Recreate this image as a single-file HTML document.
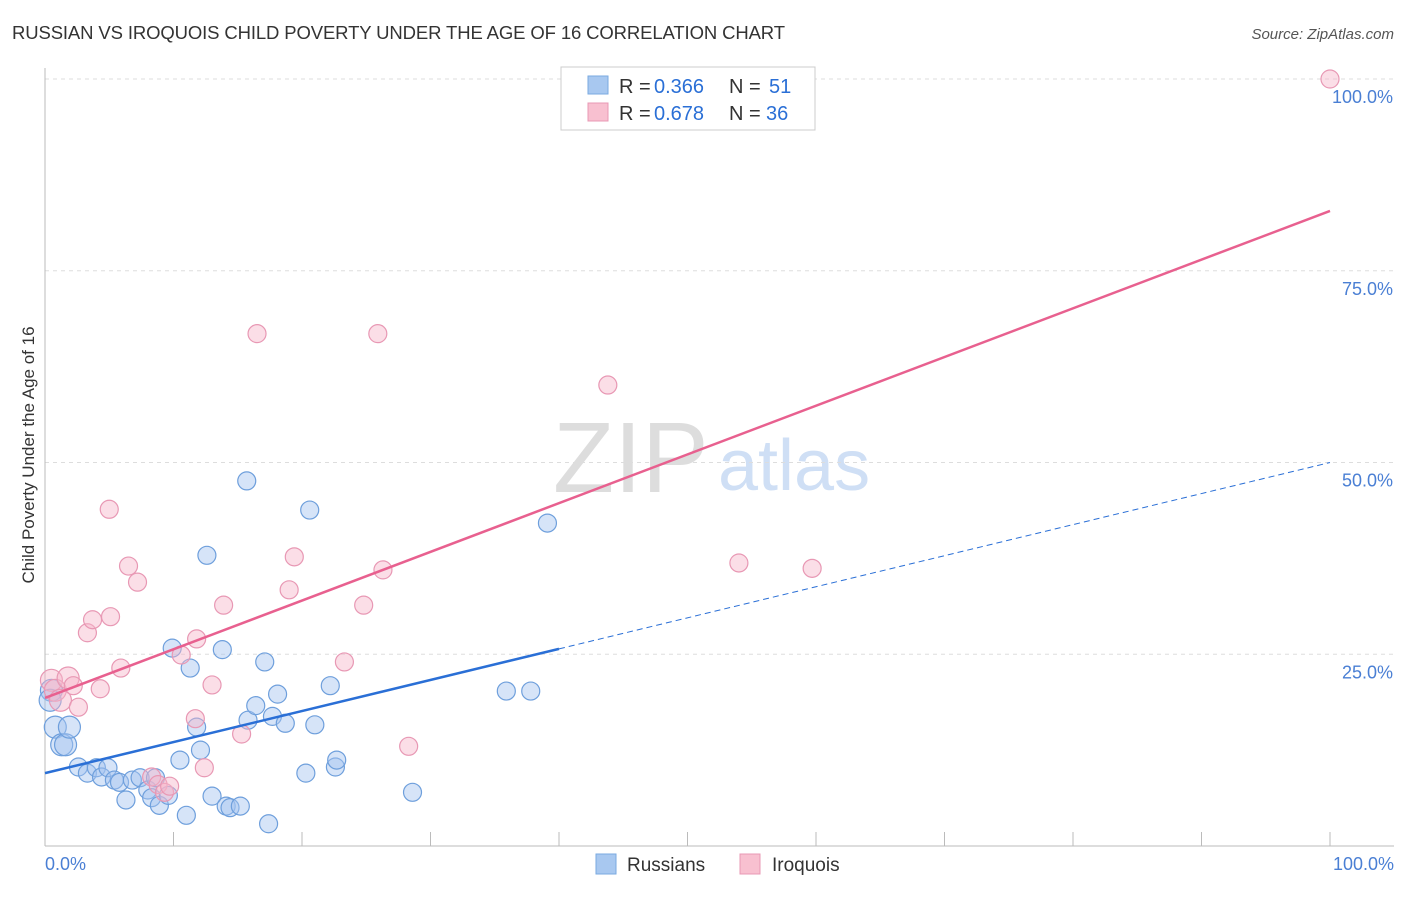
<!DOCTYPE html>
<html><head><meta charset="utf-8"><style>
body{margin:0;background:#fff;font-family:"Liberation Sans",sans-serif;}
svg text{font-family:"Liberation Sans",sans-serif;}
</style></head><body>
<svg width="1406" height="892" xmlns="http://www.w3.org/2000/svg">
<text x="12" y="39" font-size="18.5" fill="#333" textLength="773">RUSSIAN VS IROQUOIS CHILD POVERTY UNDER THE AGE OF 16 CORRELATION CHART</text>
<text x="1394" y="39" font-size="15" fill="#555" text-anchor="end" font-style="italic">Source: ZipAtlas.com</text>
<g>
<text x="553" y="492" font-size="100" fill="#ddd" font-family="Liberation Serif">ZIP</text>
<text x="718" y="490" font-size="72" fill="#cfdff5">atlas</text>
</g>
<g id="grid"></g><g id="axes"></g><g id="marks"></g>
<text transform="translate(34,455) rotate(-90)" font-size="17" fill="#333" text-anchor="middle">Child Poverty Under the Age of 16</text>
<g>
<rect x="561" y="67" width="254" height="63" fill="#fff" stroke="#ccc"/>
<rect x="588" y="76" width="20" height="18" fill="#a8c8f0" stroke="#7aaae0"/>
<rect x="588" y="103" width="20" height="18" fill="#f8c0d0" stroke="#e898b4"/>
<text y="93" font-size="20" fill="#333"><tspan x="619">R =</tspan><tspan x="654" fill="#2a6fd6">0.366</tspan><tspan x="729">N =</tspan><tspan x="769" fill="#2a6fd6">51</tspan></text>
<text y="120" font-size="20" fill="#333"><tspan x="619">R =</tspan><tspan x="654" fill="#2a6fd6">0.678</tspan><tspan x="729">N =</tspan><tspan x="766" fill="#2a6fd6">36</tspan></text>
</g>
<g>
<rect x="596" y="854" width="20" height="20" fill="#a8c8f0" stroke="#7aaae0"/>
<text x="627" y="871" font-size="19" fill="#333">Russians</text>
<rect x="740" y="854" width="20" height="20" fill="#f8c0d0" stroke="#e898b4"/>
<text x="772" y="871" font-size="19" fill="#333">Iroquois</text>
</g>
</svg>
<script>
const yTicks=[25,50,75,100];
const yTickLabels=["25.0%","50.0%","75.0%","100.0%"];
const russiansX=[0.5,0.4,0.8,1.3,1.6,1.9,2.6,3.3,4.0,4.4,4.9,5.4,5.8,6.3,6.8,7.4,8.0,8.3,8.6,8.9,9.6,9.9,10.5,11.0,11.3,11.8,12.1,12.6,13.0,13.8,14.1,14.4,15.2,15.7,15.8,16.4,17.1,17.4,17.7,18.1,18.7,20.3,20.6,21.0,22.2,22.6,22.7,28.6,35.9,37.8,39.1];
const russiansY=[20.3,19.0,15.5,13.2,13.2,15.5,10.3,9.5,10.2,9.0,10.2,8.6,8.3,6.0,8.6,8.9,7.3,6.3,8.9,5.3,6.6,25.8,11.2,4.0,23.2,15.5,12.5,37.9,6.5,25.6,5.2,5.0,5.2,47.6,16.4,18.3,24.0,2.9,16.9,19.8,16.0,9.5,43.8,15.8,20.9,10.3,11.2,7.0,20.2,20.2,42.1];
const iroquoisX=[100,0.5,0.8,1.2,1.8,2.2,2.6,3.3,3.7,4.3,5.0,5.1,5.9,6.5,7.2,8.3,8.8,9.3,9.7,10.6,11.7,11.8,12.4,13.0,13.9,15.3,16.5,19.0,19.4,23.3,24.8,25.9,26.3,28.3,43.8,54.0,59.7];
const iroquoisY=[100,21.6,20.3,19.0,21.9,20.9,18.1,27.8,29.5,20.5,43.9,29.9,23.2,36.5,34.4,9.0,8.0,7.0,7.8,24.9,16.6,27.0,10.2,21.0,31.4,14.6,66.8,33.4,37.7,24.0,31.4,66.8,36.0,13.0,60.1,36.9,36.2];
const russiansTrend=[9.5,50.0];
const iroquoisTrend=[19.3,82.8];
const NS="http://www.w3.org/2000/svg";
const X=v=>45+v*12.85, Y=v=>846-v*7.67;
function mk(t,a,p){const e=document.createElementNS(NS,t);for(const k in a)e.setAttribute(k,a[k]);p.appendChild(e);return e;}
const grid=document.getElementById('grid'),axes=document.getElementById('axes'),marks=document.getElementById('marks');
yTicks.forEach((t,i)=>{
 const l=mk('line',{x1:45,x2:1394,y1:Y(t),y2:Y(t),stroke:'#ddd','stroke-dasharray':'4,4'},grid);
 
 
 const tx=mk('text',{x:1393,y:Y(t)+24,'font-size':18,fill:'#4a7fd4','text-anchor':'end'},axes);
 tx.textContent=yTickLabels[i];
 
 
});
const ax=mk('line',{x1:45,x2:1394,y1:846,y2:846,stroke:'#bbb'},axes);


const ay=mk('line',{x1:45,x2:45,y1:68,y2:846,stroke:'#bbb'},axes);


for(let i=0;i<=10;i++){
 const tk=mk('line',{x1:X(i*10),x2:X(i*10),y1:832,y2:846,stroke:'#bbb'},axes);
 
 
}
[[0,"0.0%",'start',45],[100,"100.0%",'end',1394]].forEach(d=>{
 const t=mk('text',{x:d[3],y:870,'font-size':18,fill:'#4a7fd4','text-anchor':d[2]},axes);
 t.textContent=d[1];
 
 
});
function pts(xs,ys,fill,stroke,name){
 xs.forEach((x,i)=>{
  const c=mk('circle',{cx:X(x),cy:Y(ys[i]),r:(x<2?11:9),fill:fill,stroke:stroke,'stroke-width':1.2},marks);
  
  
 });
}
pts(russiansX,russiansY,'rgba(164,196,240,0.45)','#6e9fdc','russians-point');
pts(iroquoisX,iroquoisY,'rgba(246,182,202,0.45)','#e898b4','iroquois-point');
const rb=russiansTrend, ib=iroquoisTrend;
const r1=mk('line',{x1:X(0),y1:Y(rb[0]),x2:X(40),y2:Y(rb[0]+(rb[1]-rb[0])*0.4),stroke:'#2a6fd6','stroke-width':2.5},marks);


const r2=mk('line',{x1:X(40),y1:Y(rb[0]+(rb[1]-rb[0])*0.4),x2:X(100),y2:Y(rb[1]),stroke:'#2a6fd6','stroke-width':1,'stroke-dasharray':'6,4'},marks);


const i1=mk('line',{x1:X(0),y1:Y(ib[0]),x2:X(100),y2:Y(ib[1]),stroke:'#e8608f','stroke-width':2.5},marks);


</script>
</body></html>
